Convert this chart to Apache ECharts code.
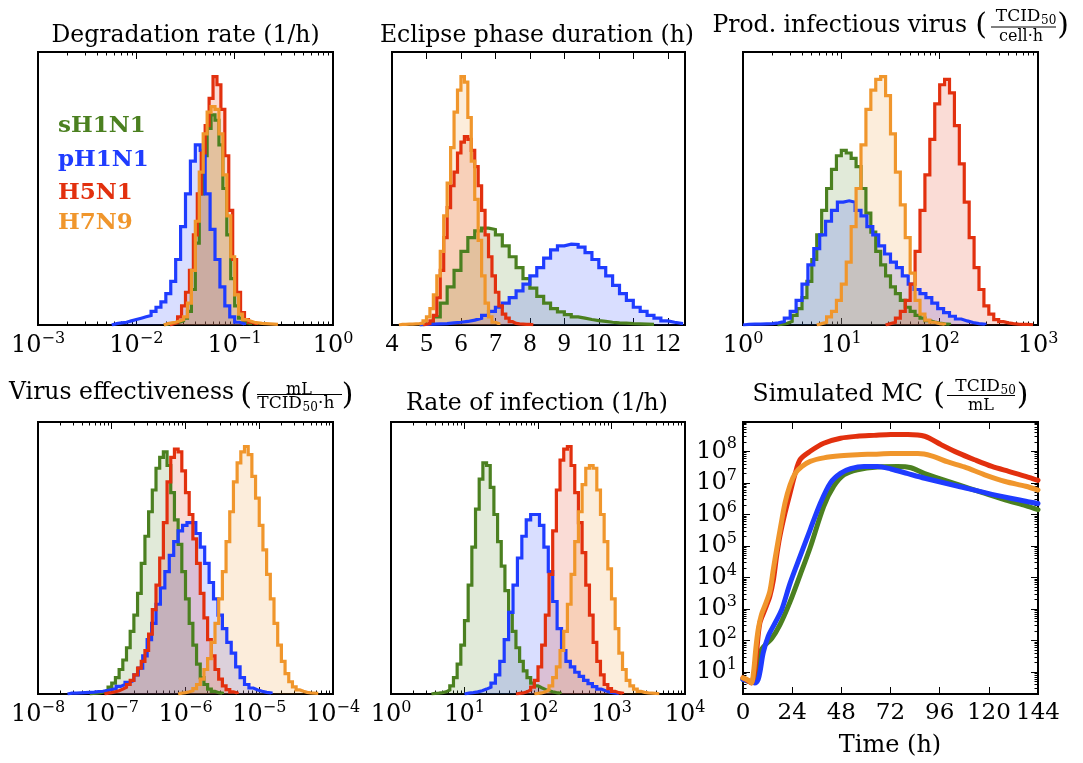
<!DOCTYPE html>
<html><head><meta charset="utf-8">
<script src="https://cdn.jsdelivr.net/npm/echarts@6/dist/echarts.min.js"></script>
<style>html,body{margin:0;padding:0;background:#fff}#c{width:1083px;height:763px}</style>
</head><body><div id="c"></div>
<script>
// ---------- strains & colours ----------
const NAMES = ['sH1N1', 'pH1N1', 'H5N1', 'H7N9'];
const COLORS = ['#4b8020', '#1f3cff', '#e2300e', '#f0962c'];
const FILLS = ['rgba(75,128,32,0.24)', 'rgba(31,60,255,0.24)', 'rgba(226,48,14,0.24)', 'rgba(240,150,44,0.24)'];

// ---------- Degradation rate (1/h): log10 first bin edge, log10 bin width, heights (% of panel) ----------
const deg_start = [-1.72, -2.25, -1.66, -1.72];
const deg_width = [0.04, 0.05, 0.04, 0.04];
const deg_sH1N1 = [0.3,0.5,0.8,1,1.5,2.5,5,13,30,48,62,72,77,75,66,50,33,17,7,2.5,1,0.5];
const deg_pH1N1 = [0.5,0.8,1,1.5,2,2.5,3,3.5,5,6.5,8.5,11.5,16,24,36,48,60,66,64,48,35,24,14,7,3,1,0.4];
const deg_H5N1 = [0.5,1,3,7,12,20,33,48,63,73,83,91,88,79,62,42,24,12,4.5,2,1,0.5];
const deg_H7N9 = [0.5,0.8,1,1.5,2,3,8,20,38,56,70,78,80,79,70,55,40,25,11,4,2,1.5,1,0.8,0.6,0.5,0.4,0.3,0.2];
const deg_ticks = [1e-3, 1e-2, 1e-1, 1];

// ---------- Eclipse phase duration (h): linear bins ----------
const ecl_start = [4.8, 4.8, 4.9, 4.2];
const ecl_width = [0.2, 0.2, 0.1, 0.1];
const ecl_sH1N1 = [0.3,1,3,8,14,20,27,32,34.5,35.5,35,33,29,25,21,17,13.5,10.5,8,6,4.8,3.8,3,2.5,2,1.6,1.3,1,0.8,0.7,0.5,0.4,0.3,0.2];
const ecl_pH1N1 = [0.2,0.3,0.4,0.5,0.8,1,1.3,1.8,2.5,3.5,5,6.5,8,10,12.5,15,18,21,24.5,27.5,29,29.6,29.5,28.5,26.5,24,21,18,14.5,11.5,9,6.5,5,3.5,2.5,1.5,1,0.6];
const ecl_H5N1 = [0.3,0.6,1.5,3.5,10,20,32,43,51,56,63,67,69,68,64,58,51,42,33,25,18,12,7,4,2.5,1.2,0.6,0.4,0.3,0.2,0.2,0.1];
const ecl_H7N9 = [0.2,0.2,0.3,0.3,0.4,0.5,0.7,1.5,3,6,11,18,27,40,52,65,78,86,91,89,76,60,46,31,18,8,3,1,0.5];
const ecl_ticks = [4, 5, 6, 7, 8, 9, 10, 11, 12];

// ---------- Prod. infectious virus ----------
const prod_start = [0.35, 0.0, 1.45, 0.75];
const prod_width = [0.05, 0.06, 0.05, 0.05];
const prod_sH1N1 = [0.3,0.6,1.3,3.5,6,10,16,24,33,42,50,57,62,64,63,61,58,50,41,34,27,22,18,14,11.5,9,6.5,5,3.5,2.5,1.6,1.1,0.7,0.4,0.3];
const prod_pH1N1 = [0.2,0.3,0.3,0.4,0.5,0.8,1.3,2.5,5,9,15,22,28,33,38,42,45,45.5,45,42,40,36,33,29,26,23,21,18,15,13,11.5,10,8,6,4.5,3.2,2.2,1.5,0.9,0.5,0.3];
const prod_H5N1 = [0.5,1,2.5,5,9,15,27,42,55,68,81,88,90,85,73,59,45,32,21,13,7,4,2,1.2,0.8,0.5,0.3,0.2,0.2,0.1];
const prod_H7N9 = [0.5,1,3,5,9,15,23,36,50,66,79,86,90,91,84,70,56,44,32,19,9,4,1.8,1,0.5,0.3];
const prod_ticks = [1, 10, 100, 1000];

// ---------- Virus effectiveness ----------
const eff_start = [-7.3, -7.6, -7.1, -6.1];
const eff_width = [0.05, 0.06, 0.05, 0.05];
const eff_sH1N1 = [0.2,0.3,0.5,0.8,1.5,2.5,4,6,9,12.5,17,23,29,37,48,58,67,75,83,87,89,84,74,64,55,45,35,26,18,11,6,3.5,1.8,1,0.5,0.3];
const eff_pH1N1 = [0.3,0.3,0.4,0.5,0.6,0.7,0.9,1,1.3,1.6,2,2.8,3.5,4.3,5,7,9.5,14,20,26,33,39,45,51,56,60,62,63,63,59,54,48,41,35,29,24,19,15,10,6,3.5,2.2,1.5,1,0.6,0.4];
const eff_H5N1 = [0.3,0.5,0.8,1.2,1.8,2.5,3.5,5,7,9.5,12,16,22,31,40,50,63,78,87,90,89,82,74,66,57,48,37,28,20,14,9,5.5,3,1.6,0.8,0.4];
const eff_H7N9 = [0.3,0.5,0.8,1.2,2,3.5,5.5,9,13,19,26,35,45,56,67,78,85,89,91,88,80,72,62,53,44,35,26,18,12,7.5,4.5,2.6,1.5,1,0.6,0.4,0.3,0.2];
const eff_ticks = [1e-8, 1e-7, 1e-6, 1e-5, 1e-4];

// ---------- Rate of infection (1/h) ----------
const inf_start = [0.55, 1.0, 1.7, 1.95];
const inf_width = [0.05, 0.06, 0.05, 0.05];
const inf_sH1N1 = [0.2,0.3,0.5,0.8,1.5,3,6,11,18,27,40,54,68,79,85,84,76,66,56,47,38,30,23,17,12,8.5,6,4,3,2.3,1.7,1.2,0.8,0.5,0.3];
const inf_pH1N1 = [0.3,0.5,0.8,1.2,1.8,2.5,4,7,12,20,30,40,50,58,64,66,66,62,54,45,34,24,16,12,10,8,6.5,5,3.8,2.7,1.8,1.2,0.7,0.4,0.2];
const inf_H5N1 = [0.2,0.4,0.8,1.5,2.5,5,10,18,29,44,60,75,86,90,91,84,74,63,52,40,29,19,12,7,3.5,2,1,0.5,0.3];
const inf_H7N9 = [0.2,0.4,0.8,1.5,3,6,10,16,23,33,44,56,67,77,83,84,83,75,66,56,46,35,24,15,9,5,3,1.8,1,0.6,0.4,0.3,0.2,0.1];
const inf_ticks = [1, 10, 100, 1000, 10000];

// ---------- Simulated MC (TCID50/mL) vs time (h) ----------
const mc_t_sH1N1 = [0,4.1,7.4,9,14,18,23,27.9,32.8,39.4,44.3,49.3,55.8,65.7,75.5,82,88.7,105,116.6,129.7,138,144];
const mc_v_sH1N1 = [5.8,4.8,12,51,115,310,1700,1.2e4,8.9e4,1.8e6,7.8e6,1.8e7,2.6e7,3.2e7,3.3e7,3e7,1.95e7,8.7e6,5e6,2.7e6,1.9e6,1.4e6];
const mc_t_pH1N1 = [0,3.3,5.7,7.4,8.5,9.85,12.3,15.6,18.9,23,27.9,32.8,37.8,42.7,47.6,52.5,59.1,65.7,72.2,80.5,88.7,105,121.5,138,144];
const mc_v_pH1N1 = [5.8,5,4.5,5.8,12,40,135,355,950,6600,4.7e4,3.3e5,2.3e6,1e7,2e7,2.8e7,3.3e7,3.3e7,2.75e7,1.95e7,1.4e7,7.8e6,4.3e6,2.6e6,2.2e6];
const mc_t_H5N1 = [0,2,4,5.5,6.6,8.2,10.7,13.1,14.8,16.4,18,20.5,23,25.5,27.9,32.8,39.4,47.6,55.8,64,72.2,80.5,88.7,96.9,105,113,121.5,129.7,138,144];
const mc_v_H5N1 = [6.5,5.5,4.5,9,40,350,950,2500,8000,4.7e4,2e5,1.1e6,4.8e6,2e7,5.5e7,1e8,1.8e8,2.6e8,3e8,3.2e8,3.4e8,3.4e8,3e8,1.6e8,8.9e7,5.4e7,3.3e7,2.3e7,1.6e7,1.2e7];
const mc_t_H7N9 = [0,2.5,4.1,5.3,6.2,7.4,9,11.2,13.1,14.8,16.4,18.4,20.5,23,25.5,28.7,32.8,39.4,47.6,55.8,64,72.2,85.4,92,100,108,118,128,138,144];
const mc_v_H7N9 = [6.5,5.5,4.5,12,51,220,660,1550,3600,1.8e4,7.6e4,4.2e5,2.3e6,8.7e6,2e7,3.3e7,4.8e7,6.2e7,7.2e7,7.8e7,8.1e7,8.5e7,8.5e7,7.2e7,4.6e7,3.2e7,1.8e7,1.1e7,7.8e6,5.9e6];
const mc_x_ticks = [0, 24, 48, 72, 96, 120, 144];
const mc_y_ticks = [1e1, 1e2, 1e3, 1e4, 1e5, 1e6, 1e7, 1e8];

// ---------- layout ----------
const SERIF = '"DejaVu Serif", "Liberation Serif", serif';
const GRIDS = [
  {left: 38, top: 52, width: 295, height: 273},
  {left: 392, top: 52, width: 293, height: 273},
  {left: 743, top: 52, width: 295, height: 273},
  {left: 38, top: 422, width: 295, height: 272},
  {left: 391, top: 422, width: 294, height: 272},
  {left: 743, top: 422, width: 295, height: 272}
];

function minorLog(min, max) {
  const out = [];
  for (let d = Math.floor(Math.log10(min)); d < Math.ceil(Math.log10(max)); d++) {
    for (let k = 2; k <= 9; k++) {
      const v = k * Math.pow(10, d);
      if (v > min * 1.0001 && v < max * 0.9999) out.push(v);
    }
  }
  return out;
}
function powLabel(v) {
  const e = Math.round(Math.log10(v));
  return '{b|10}{s|' + (e < 0 ? '\u2212' + (-e) : String(e)) + '}';
}
const POW_RICH = {
  b: {fontFamily: SERIF, fontSize: 24, lineHeight: 30, color: '#000'},
  s: {fontFamily: SERIF, fontSize: 16, lineHeight: 16, color: '#000', verticalAlign: 'top'}
};

const HIST_PANELS = [
  {g: 0, log: true, min: 1e-3, max: 1, ticks: deg_ticks, start: deg_start, width: deg_width, counts: [deg_sH1N1, deg_pH1N1, deg_H5N1, deg_H7N9]},
  {g: 1, log: false, min: 4, max: 12.5, ticks: ecl_ticks, start: ecl_start, width: ecl_width, counts: [ecl_sH1N1, ecl_pH1N1, ecl_H5N1, ecl_H7N9]},
  {g: 2, log: true, min: 1, max: 1000, ticks: prod_ticks, start: prod_start, width: prod_width, counts: [prod_sH1N1, prod_pH1N1, prod_H5N1, prod_H7N9]},
  {g: 3, log: true, min: 1e-8, max: 1e-4, ticks: eff_ticks, start: eff_start, width: eff_width, counts: [eff_sH1N1, eff_pH1N1, eff_H5N1, eff_H7N9]},
  {g: 4, log: true, min: 1, max: 1e4, ticks: inf_ticks, start: inf_start, width: inf_width, counts: [inf_sH1N1, inf_pH1N1, inf_H5N1, inf_H7N9]}
];

const xAxes = [], yAxes = [], series = [];
function addX(a) { xAxes.push(a); return xAxes.length - 1; }
function addY(a) { yAxes.push(a); return yAxes.length - 1; }

function tickAxis(gi, pos, type, min, max, vals, len, label) {
  return {
    gridIndex: gi, type: type, logBase: 10, min: min, max: max, position: pos, silent: true,
    axisLine: {show: false, onZero: false},
    splitLine: {show: false}, minorTick: {show: false}, minorSplitLine: {show: false},
    axisTick: {show: true, inside: true, length: len, customValues: vals, lineStyle: {color: '#000', width: 1}},
    axisLabel: label ? Object.assign({customValues: vals}, label) : {show: false}
  };
}

function histPoints(start, width, counts, isLog) {
  const edge = i => isLog ? Math.pow(10, start + i * width) : start + i * width;
  const pts = [[edge(0), 0]];
  counts.forEach((c, i) => { pts.push([edge(i), c], [edge(i + 1), c]); });
  pts.push([edge(counts.length), 0]);
  return pts;
}

HIST_PANELS.forEach(p => {
  const type = p.log ? 'log' : 'value';
  const label = p.log
    ? {show: true, margin: 6, formatter: powLabel, rich: POW_RICH}
    : {show: true, margin: 6, fontFamily: '"Liberation Serif", serif', fontSize: 26, color: '#000'};
  const xi = addX(tickAxis(p.g, 'bottom', type, p.min, p.max, p.ticks, 7, label));
  addX(tickAxis(p.g, 'top', type, p.min, p.max, p.ticks, 7, null));
  if (p.log) {
    const mn = minorLog(p.min, p.max);
    addX(tickAxis(p.g, 'bottom', type, p.min, p.max, mn, 3.5, null));
    addX(tickAxis(p.g, 'top', type, p.min, p.max, mn, 3.5, null));
  }
  const yi = addY({gridIndex: p.g, type: 'value', min: 0, max: 100, show: false});
  NAMES.forEach((name, k) => {
    series.push({
      type: 'line', name: name, xAxisIndex: xi, yAxisIndex: yi,
      data: histPoints(p.start[k], p.width[k], p.counts[k], p.log),
      symbol: 'none', showSymbol: false, clip: true, animation: false, silent: true,
      lineStyle: {color: COLORS[k], width: 3.2, join: 'miter'},
      itemStyle: {color: COLORS[k]},
      areaStyle: {color: FILLS[k], origin: 'start'}
    });
  });
});

// Simulated MC panel
(function () {
  const g = 5;
  const xl = {show: true, margin: 8, fontFamily: SERIF, fontSize: 23, color: '#000'};
  const xi = addX(tickAxis(g, 'bottom', 'value', 0, 144, mc_x_ticks, 7, xl));
  addX(tickAxis(g, 'top', 'value', 0, 144, mc_x_ticks, 7, null));
  const ymin = 2, ymax = 8.5e8;
  const yl = {show: true, margin: 6, formatter: powLabel, rich: POW_RICH};
  const yi = addY(tickAxis(g, 'left', 'log', ymin, ymax, mc_y_ticks, 7, yl));
  const mn = minorLog(ymin, ymax);
  addY(tickAxis(g, 'left', 'log', ymin, ymax, mn, 3.5, null));
  addY(tickAxis(g, 'right', 'log', ymin, ymax, mc_y_ticks, 7, null));
  addY(tickAxis(g, 'right', 'log', ymin, ymax, mn, 3.5, null));
  const T = [mc_t_sH1N1, mc_t_pH1N1, mc_t_H5N1, mc_t_H7N9];
  const V = [mc_v_sH1N1, mc_v_pH1N1, mc_v_H5N1, mc_v_H7N9];
  NAMES.forEach((name, k) => {
    series.push({
      type: 'line', name: name, xAxisIndex: xi, yAxisIndex: yi,
      data: T[k].map((t, i) => [t, V[k][i]]),
      smooth: 0.3, symbol: 'none', showSymbol: false, clip: true, animation: false, silent: true,
      lineStyle: {color: COLORS[k], width: 5, cap: 'round', join: 'round'},
      itemStyle: {color: COLORS[k]}
    });
  });
})();

// ---------- titles, legend ----------
function T(x, y, text, size, align, extra) {
  return {type: 'text', x: x, y: y, silent: true, z: 100,
    style: Object.assign({text: text, fontFamily: SERIF, fontSize: size, fill: '#000',
      align: align || 'center', verticalAlign: 'middle', textAlign: align || 'center', textVerticalAlign: 'middle'}, extra || {})};
}
function L(x1, x2, y) {
  return {type: 'line', silent: true, z: 100, shape: {x1: x1, y1: y, x2: x2, y2: y}, style: {stroke: '#000', lineWidth: 1}};
}
const TS = 23.5;
const graphics = [
  T(185.5, 36, 'Degradation rate (1/h)', TS),
  T(537, 36, 'Eclipse phase duration (h)', TS),
  // Prod. infectious virus (TCID50 / cell·h)
  T(967, 26, 'Prod. infectious virus', TS, 'right'),
  T(981, 26, '(', 30), T(1063, 26, ')', 30),
  T(1040.5, 17, 'TCID', 17, 'right'), T(1041, 21, '50', 12, 'left'),
  L(991, 1056, 27), T(1021, 37, 'cell\u00b7h', 16),
  // Virus effectiveness (mL / TCID50·h)
  T(234, 393, 'Virus effectiveness', TS, 'right'),
  T(246, 396, '(', 30), T(347.5, 396, ')', 30),
  T(299, 389.5, 'mL', 16),
  L(257, 342, 394.5),
  T(302, 403.5, 'TCID', 17, 'right'), T(302.5, 407.5, '50', 12, 'left'), T(318, 403.5, '\u00b7h', 17, 'left'),
  T(537, 404, 'Rate of infection (1/h)', TS),
  // Simulated MC (TCID50 / mL)
  T(923, 395, 'Simulated MC', TS, 'right'),
  T(939, 396, '(', 30), T(1022.5, 396, ')', 30),
  T(1000, 387, 'TCID', 17, 'right'), T(1000.5, 391, '50', 12, 'left'),
  L(947, 1015, 395.5), T(981, 406, 'mL', 16),
  T(890, 746, 'Time (h)', 24)
];
const legendY = [126, 160, 193, 223];
NAMES.forEach((n, k) => graphics.push(T(58, legendY[k], n, 23, 'left', {fill: COLORS[k], fontWeight: 'bold'})));

const chart = echarts.init(document.getElementById('c'), null, {renderer: 'canvas'});
chart.setOption({
  backgroundColor: '#fff',
  animation: false,
  grid: GRIDS.map(g => Object.assign({show: true, borderColor: '#000', borderWidth: 2, backgroundColor: 'transparent', containLabel: false, outerBoundsMode: 'none'}, g)),
  xAxis: xAxes,
  yAxis: yAxes,
  series: series,
  graphic: graphics
});
</script></body></html>
